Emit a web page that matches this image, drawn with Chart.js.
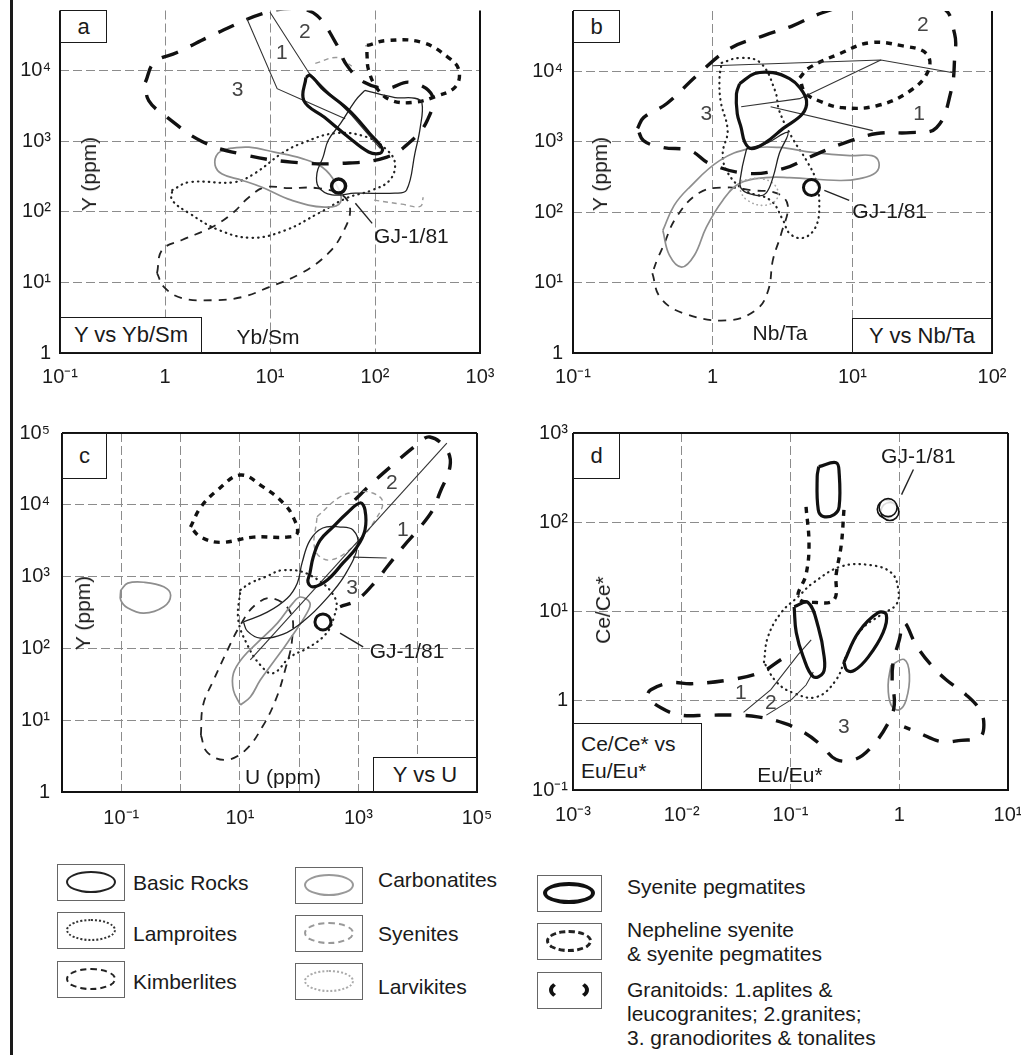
<!DOCTYPE html>
<html lang="en">
<head>
<meta charset="UTF-8">
<title>Y, Ce/Ce* discrimination diagrams</title>
<script src="https://cdn.jsdelivr.net/npm/chart.js"></script>
<style>
  body { margin: 0; background: #fff; }
  #fig { position: relative; width: 1021px; height: 1055px; overflow: hidden;
         font-family: "Liberation Sans", Arial, sans-serif; color: #1a1a1a; background: #fff; }
  canvas { position: absolute; }
  .bar { position: absolute; left: 10px; top: 0; width: 3px; height: 1055px; background: #1a1a1a; }
  .box { position: absolute; box-sizing: border-box; border: 1.5px solid #1a1a1a; background: #fff;
         font-size: 22px; display: flex; align-items: center; justify-content: center; white-space: nowrap; }
  .lbl { position: absolute; font-size: 21px; white-space: nowrap; transform: translate(-50%, -50%); }
  .rot { transform: translate(-50%, -50%) rotate(-90deg); }
  .lg { position: absolute; box-sizing: border-box; width: 68px; height: 37px; border: 1.5px solid #666; }
  .lg i { position: absolute; left: 8px; top: 6px; width: 50px; height: 22px; border-radius: 50%; box-sizing: border-box; }
  .lt { position: absolute; font-size: 21px; line-height: 24px; white-space: nowrap; }
</style>
</head>
<body>
<div id="fig">
  <div class="bar"></div>
  <canvas id="pa" width="510" height="400" style="left:0;top:0"></canvas>
  <canvas id="pb" width="511" height="400" style="left:510px;top:0"></canvas>
  <canvas id="pc" width="510" height="440" style="left:0;top:400px"></canvas>
  <canvas id="pd" width="511" height="440" style="left:510px;top:400px"></canvas>

  <!-- panel a -->
  <div class="box" style="left:60px;top:10px;width:47px;height:33px">a</div>
  <div class="lbl rot" style="left:89px;top:174px">Y (ppm)</div>
  <div class="lbl" style="left:268px;top:337px">Yb/Sm</div>
  <div class="box" style="left:60px;top:317px;width:142px;height:36px">Y vs Yb/Sm</div>
  <!-- panel b -->
  <div class="box" style="left:573px;top:10px;width:47px;height:33px">b</div>
  <div class="lbl rot" style="left:600px;top:174px">Y (ppm)</div>
  <div class="lbl" style="left:780px;top:333px">Nb/Ta</div>
  <div class="box" style="left:852px;top:318px;width:140px;height:35px">Y vs Nb/Ta</div>
  <!-- panel c -->
  <div class="box" style="left:62px;top:433px;width:45px;height:46px">c</div>
  <div class="lbl rot" style="left:83px;top:613px">Y (ppm)</div>
  <div class="lbl" style="left:283px;top:777px">U (ppm)</div>
  <div class="box" style="left:373px;top:757px;width:104px;height:35px">Y vs U</div>
  <!-- panel d -->
  <div class="box" style="left:573px;top:433px;width:47px;height:46px">d</div>
  <div class="lbl rot" style="left:603px;top:610px">Ce/Ce*</div>
  <div class="lbl" style="left:790px;top:775px">Eu/Eu*</div>
  <div class="box" style="left:573px;top:723px;width:129px;height:67px;display:block;padding:6px 0 0 7px;line-height:27px;font-size:21px">Ce/Ce* vs<br>Eu/Eu*</div>

  <!-- legend -->
  <div class="lg" style="left:57px;top:864px"><i style="border:2px solid #222"></i></div>
  <div class="lt" style="left:133px;top:871px">Basic Rocks</div>
  <div class="lg" style="left:57px;top:912px"><i style="border:2.5px dotted #333"></i></div>
  <div class="lt" style="left:133px;top:922px">Lamproites</div>
  <div class="lg" style="left:57px;top:961px"><i style="border:2px dashed #222"></i></div>
  <div class="lt" style="left:133px;top:970px">Kimberlites</div>

  <div class="lg" style="left:295px;top:867px"><i style="border:2px solid #999"></i></div>
  <div class="lt" style="left:378px;top:868px">Carbonatites</div>
  <div class="lg" style="left:295px;top:915px"><i style="border:2px dashed #999"></i></div>
  <div class="lt" style="left:378px;top:922px">Syenites</div>
  <div class="lg" style="left:295px;top:963px"><i style="border:2px dotted #aaa"></i></div>
  <div class="lt" style="left:378px;top:975px">Larvikites</div>

  <div class="lg" style="left:537px;top:875px;width:65px"><i style="border:4px solid #111;width:52px;left:5px"></i></div>
  <div class="lt" style="left:627px;top:875px">Syenite pegmatites</div>
  <div class="lg" style="left:537px;top:923px;width:65px"><i style="border:3px dashed #222;width:46px;left:8px"></i></div>
  <div class="lt" style="left:627px;top:918px">Nepheline syenite<br>&amp; syenite pegmatites</div>
  <div class="lg" style="left:537px;top:972px;width:65px"><i style="border:4px solid #111;border-top-color:transparent;border-bottom-color:transparent;width:40px;left:11px"></i></div>
  <div class="lt" style="left:627px;top:978px">Granitoids: 1.aplites &amp;<br>leucogranites; 2.granites;<br>3. granodiorites &amp; tonalites</div>
</div>

<script>
// ---------- tick values and labels ----------
const aXTicks = [0.1, 1, 10, 100, 1000];
const aXLabels = ['10⁻¹', '1', '10¹', '10²', '10³'];
const abYTicks = [1, 10, 100, 1000, 10000];
const abYLabels = ['1', '10¹', '10²', '10³', '10⁴'];
const bXTicks = [0.1, 1, 10, 100];
const bXLabels = ['10⁻¹', '1', '10¹', '10²'];
const cXTicks = [0.01, 0.1, 1, 10, 100, 1000, 10000, 100000];
const cXLabels = ['', '10⁻¹', '', '10¹', '', '10³', '', '10⁵'];
const cYTicks = [1, 10, 100, 1000, 10000, 100000];
const cYLabels = ['1', '10¹', '10²', '10³', '10⁴', '10⁵'];
const dXTicks = [0.001, 0.01, 0.1, 1, 10];
const dXLabels = ['10⁻³', '10⁻²', '10⁻¹', '1', '10¹'];
const dYTicks = [0.1, 1, 10, 100, 1000];
const dYLabels = ['10⁻¹', '1', '10¹', '10²', '10³'];

// ---------- panel a: Y (ppm) vs Yb/Sm, field outlines [Yb/Sm, Y] ----------
const aGranitoid3 = [[0.65,6900],[0.79,13200],[1.3,18300],[3.2,35000],[8.8,66000],[18,77000],[28,61000],[42,25500],[54,12000],[79,6900],[130,5700],[215,6900],[350,4500],[315,2000],[225,1040],[130,600],[49,490],[16,510],[5.4,660],[2.25,1000],[1.05,2200],[0.7,3800]];
const aGranitoid1 = [[6.0,56000],[11.7,5600],[21,3800],[52,2100]];
const aGranitoid2 = [[10,68000],[23.6,9300],[60,2350],[112,800]];
const aPegmatite = [[22,8100],[21,3800],[33,2200],[56,1150],[87,710],[112,680],[117,800],[89,1300],[56,2800],[33,5300],[24,8700]];
const aBasic = [[80,5300],[155,4200],[240,4100],[280,3500],[270,1600],[240,680],[200,205],[155,185],[65,185],[39,175],[29,225],[28,355],[32,600],[36,1050],[47,1800],[65,3800]];
const aNepheline = [[84,23000],[130,27000],[280,25500],[500,15500],[630,10200],[580,5900],[370,4300],[240,3600],[145,3800],[105,5600],[87,10200],[84,16500]];
const aSyeniteTop = [[27,12800],[44,15500],[60,11700]];
const aSyeniteLow = [[98,147],[180,129],[270,120],[288,162]];
const aCarbonatite = [[4.1,800],[6.3,830],[11,705],[20,575],[31.5,430],[42,257],[47,138],[33,117],[16,147],[8.4,224],[5.4,282],[3.5,345],[3.0,460],[3.2,680]];
const aLamproite = [[1.17,204],[1.7,265],[4.6,265],[7.2,355],[13,680],[20,940],[42,1310],[84,1150],[130,755],[155,490],[138,282],[94,204],[54,158],[29,96],[14,55],[6.7,43],[3.3,55],[1.7,96],[1.17,147]];
const aKimberlite = [[0.84,13.6],[0.94,29],[1.45,40],[2.8,61],[4.4,96],[6.3,162],[9.0,224],[15,218],[28,218],[49,173],[58,106],[49,50],[36,26],[20,13.6],[9.8,8.6],[5.4,6.2],[2.8,5.6],[1.45,6.0],[0.98,8.6]];
const aGJ = [[45,233]];

// ---------- panel b: Y (ppm) vs Nb/Ta ----------
const bGranitoid3 = [[0.29,1550],[0.32,2200],[0.47,3500],[0.77,8700],[1.32,21000],[2.3,32000],[3.7,44000],[6.1,68000],[15,110000],[44,80000],[54,34000],[54,15500],[51,5300],[40,1580],[26,1350],[15,1310],[8.5,940],[4.9,600],[3.2,415],[1.8,355],[0.95,490],[0.69,750],[0.44,830],[0.32,1040]];
const bGranitoid1a = [[1.0,12000],[16,14500],[54,9500]];
const bGranitoid1b = [[1.6,3150],[4.2,4100],[16,14500]];
const bGranitoid1c = [[2.6,3150],[14,1440]];
const bNepheline = [[4.2,8100],[4.9,11200],[8.1,17800],[13.3,25500],[23,23000],[34,17800],[35,10200],[26,5300],[15,3250],[8.5,3050],[5.8,3800],[4.6,5000]];
const bPegmatite = [[1.56,6700],[2.0,9300],[2.7,9600],[3.55,7900],[4.2,5900],[4.7,3800],[4.4,2500],[3.2,1550],[2.4,980],[1.9,800],[1.7,980],[1.6,1580],[1.5,2500],[1.48,4800]];
const bBasic = [[1.75,800],[1.6,355],[1.6,218],[2.05,173],[2.4,185],[2.7,310],[3.0,680],[3.45,1350],[2.4,940]];
const bCarbonatite = [[0.44,55],[0.53,125],[0.68,224],[1.12,540],[1.84,800],[3.0,830],[5.2,705],[9.6,635],[13.8,635],[15.5,510],[14.7,365],[11.3,300],[8.1,282],[3.55,310],[2.4,310],[1.56,257],[1.18,147],[0.9,61],[0.74,24.5],[0.6,16.6],[0.49,24.5]];
const bKimberlite = [[0.37,13.6],[0.42,6.2],[0.61,3.7],[1.26,2.9],[2.05,4.1],[2.5,7.8],[2.7,21],[3.1,50],[3.45,125],[2.9,185],[1.93,204],[1.26,224],[0.81,190],[0.55,85],[0.44,32],[0.4,21]];
const bLamproite = [[1.16,13200],[1.56,15500],[2.2,13200],[2.8,5300],[3.0,2750],[3.7,1150],[4.7,540],[5.5,282],[5.8,117],[5.4,59],[4.4,43],[3.55,50],[3.2,76],[2.6,147],[1.7,204],[1.28,365],[1.18,680],[1.28,1440],[1.14,3800],[1.12,8100]];
const bLarvikite = [[1.6,282],[2.2,300],[2.8,240],[2.9,158],[2.35,125],[1.78,147],[1.58,204]];
const bGJ = [[5.1,224]];

// ---------- panel c: Y (ppm) vs U (ppm) ----------
const cCarbonatiteSmall = [[0.098,650],[0.129,810],[0.24,835],[0.52,720],[0.68,550],[0.52,380],[0.24,310],[0.129,365],[0.098,470]];
const cNepheline = [[1.47,4900],[2.2,9300],[4.2,16000],[10.2,26000],[25,17600],[54,10600],[79,6800],[93,4000],[63,3550],[17,3550],[4.7,3000],[2.2,3550]];
const cKimberlite = [[2.2,6.2],[2.4,16.3],[3.6,36],[6.2,95],[10.2,212],[18,400],[35,500],[71,320],[76,132],[58,50],[40,19],[24,8.1],[12.3,3.8],[5.7,2.8],[2.8,3.6]];
const cCarbonatite = [[10.2,16.3],[7.8,26],[7.8,45],[11.4,76],[19.6,119],[43,225],[79,430],[105,520],[152,430],[135,310],[63,119],[36,63],[22,36],[15,21]];
const cBasic = [[11.5,234],[29,320],[63,500],[93,810],[112,1550],[152,3200],[250,4750],[490,4900],[810,4450],[980,2750],[590,1050],[275,470],[126,250],[54,158],[22,139],[13.4,174]];
const cPegmatite = [[152,1120],[173,1870],[225,3200],[370,4900],[645,7700],[1070,10600],[1290,8500],[1290,4450],[940,2570],[550,1550],[295,890],[173,720],[141,840]];
const cSyenite = [[200,6800],[490,12900],[940,15100],[1740,14600],[2570,11000],[1900,6100],[870,2750],[330,1700],[186,2350]];
const cLamproite = [[10.2,650],[15,810],[27,990],[54,1230],[152,1050],[405,500],[375,250],[275,155],[141,102],[71,76],[36,45],[22,59],[13.4,112],[9.4,250]];
const cGranitoid = [[870,11700],[1700,20000],[3800,36000],[9500,68000],[16000,88000],[31000,58000],[35000,34000],[23500,14600],[18000,8500],[10000,4450],[6000,2750],[3000,1350],[2050,900],[940,470],[490,380]];
const cGranitoidLine = [[15,69],[31000,72000]];
const cGranitoidTick = [[810,1870],[3000,1820]];
const cGJ = [[252,234]];

// ---------- panel d: Ce/Ce* vs Eu/Eu* ----------
const dPegmatiteTop = [[0.182,420],[0.263,465],[0.28,360],[0.28,149],[0.252,122],[0.2,116],[0.18,138],[0.176,325]];
const dPegmatiteLeft = [[0.108,11.3],[0.145,12.6],[0.18,6.7],[0.204,3.1],[0.2,2.06],[0.162,1.86],[0.131,3.1],[0.113,5.8]];
const dPegmatiteRight = [[0.31,2.7],[0.42,5.8],[0.64,9.7],[0.76,9.2],[0.71,5.8],[0.52,3.1],[0.39,2.2],[0.33,2.2]];
const dNepheline = [[0.139,149],[0.148,56],[0.139,26],[0.118,14.3],[0.173,12.6],[0.252,13.6],[0.263,26],[0.293,56],[0.31,138]];
const dLamproite = [[0.057,2.7],[0.062,5.2],[0.082,9.7],[0.118,14.7],[0.162,21],[0.293,32],[0.55,33],[0.85,27],[0.98,17.6],[0.94,12],[0.68,9.2],[0.45,6.3],[0.33,3.3],[0.263,1.72],[0.173,1.1],[0.105,1.23],[0.074,1.63]];
const dCarbonatite = [[0.84,2.5],[1.11,2.9],[1.24,1.96],[1.16,1.03],[1.0,0.79],[0.84,0.9],[0.79,1.5]];
const dGranitoid3 = [[0.082,2.9],[0.054,2.1],[0.028,1.72],[0.0122,1.55],[0.008,1.59],[0.0052,1.33],[0.0049,1.11],[0.0065,0.83],[0.0098,0.69],[0.0174,0.69],[0.032,0.69],[0.05,0.66],[0.087,0.56],[0.134,0.44],[0.19,0.32],[0.263,0.22],[0.39,0.22],[0.55,0.30],[0.79,0.56],[0.9,0.9],[0.86,1.72],[0.88,2.7],[1.0,4.8],[1.11,7.5],[1.43,4.2],[1.97,2.5],[2.7,1.72],[4.1,1.17],[5.5,0.79],[6.0,0.54],[5.5,0.39],[3.7,0.36],[2.4,0.35],[1.5,0.44],[1.11,0.51]];
const dGranitoid1 = [[0.037,0.74],[0.066,1.33],[0.118,3.3],[0.155,4.8]];
const dGranitoid2 = [[0.06,0.69],[0.102,1.03],[0.139,1.5],[0.162,2.1]];
const dGJ = [[0.76,140],[0.82,132],[0.79,146]];

// annotations: [text, x, y]
const aNotes = [['1',13,18000],['2',21.5,35500],['3',4.9,5300]];
const bNotes = [['3',0.9,2500],['1',30,2500],['2',32,45000]];
const cNotes = [['1',5600,4450],['2',3650,20000],['3',780,690]];
const dNotes = [['1',0.035,1.23],['2',0.066,0.95],['3',0.31,0.51]];
const aGJText = [98,44], aGJLeader = [[65,133],[94,69]];
const bGJText = [10,100], bGJLeader = [[6.3,204],[9.5,147]];
const cGJText = [1550,89], cGJLeader = [[490,163],[1200,105]];
const dGJText = [1.5,530], dGJLeader = [[1.05,204],[1.35,390]];

const FONT = '"Liberation Sans", Arial, sans-serif';
const STY = {
  basic:      { c: '#222', w: 1.3, d: [] },
  lamproite:  { c: '#222', w: 2.2, d: [0.5, 5], cap: 'round' },
  kimberlite: { c: '#222', w: 1.8, d: [8, 7] },
  carbonatite:{ c: '#8e8e8e', w: 1.7, d: [] },
  syenite:    { c: '#9a9a9a', w: 1.4, d: [5, 4] },
  larvikite:  { c: '#aaa', w: 1.6, d: [0.5, 4], cap: 'round' },
  pegmatite:  { c: '#111', w: 3.2, d: [] },
  nepheline:  { c: '#111', w: 3.4, d: [6, 6] },
  granitoid:  { c: '#111', w: 3.4, d: [17, 14] },
  thin:       { c: '#333', w: 1.1, d: [], t: 0 }
};

function shape(pts, style, closed = true) {
  const s = STY[style];
  const p = closed ? pts.concat([pts[0]]) : pts;
  return {
    data: p.map(q => ({ x: q[0], y: q[1] })),
    showLine: true, pointRadius: 0, fill: false,
    borderColor: s.c, borderWidth: s.w, borderDash: s.d,
    borderCapStyle: s.cap || 'butt', tension: s.t === 0 ? 0 : 0.4
  };
}
function gj(pts, r, bw) {
  return { data: pts.map(q => ({ x: q[0], y: q[1] })), showLine: false,
           pointRadius: r, pointBorderWidth: bw, pointBorderColor: '#111',
           pointBackgroundColor: 'rgba(255,255,255,0.85)' };
}

const framePlugin = {
  id: 'frame',
  afterDatasetsDraw(chart, args, o) {
    const { ctx, chartArea: a, scales } = chart;
    ctx.save();
    // annotation texts and leader
    ctx.fillStyle = '#444';
    ctx.font = '21px ' + FONT;
    ctx.textAlign = 'center'; ctx.textBaseline = 'middle';
    o.notes.forEach(n => ctx.fillText(n[0], scales.x.getPixelForValue(n[1]), scales.y.getPixelForValue(n[2])));
    ctx.fillStyle = '#1a1a1a';
    ctx.textAlign = o.gjAlign;
    ctx.fillText('GJ-1/81', scales.x.getPixelForValue(o.gjText[0]), scales.y.getPixelForValue(o.gjText[1]));
    ctx.strokeStyle = '#222'; ctx.lineWidth = 1.4;
    ctx.beginPath();
    o.gjLeader.forEach((p, i) => {
      const x = scales.x.getPixelForValue(p[0]), y = scales.y.getPixelForValue(p[1]);
      i ? ctx.lineTo(x, y) : ctx.moveTo(x, y);
    });
    ctx.stroke();
    // frame
    ctx.strokeStyle = '#111'; ctx.lineWidth = 2;
    ctx.beginPath();
    if (o.top) { ctx.moveTo(a.left, a.top); ctx.lineTo(a.right, a.top); }
    ctx.moveTo(a.left, a.top); ctx.lineTo(a.left, a.bottom); ctx.lineTo(a.right, a.bottom); ctx.lineTo(a.right, a.top);
    ctx.stroke();
    ctx.restore();
  }
};

function axis(min, max, ticks, labels, isX, size, pad) {
  return {
    type: 'logarithmic', min: min, max: max,
    afterBuildTicks: s => { s.ticks = ticks.map(v => ({ value: v })); },
    afterFit: s => {
      if (isX) { s.height = size; s.paddingLeft = 0; s.paddingRight = 0; }
      else { s.width = size; s.paddingTop = 0; s.paddingBottom = 0; }
    },
    ticks: { callback: (v, i) => labels[i], autoSkip: false, maxRotation: 0,
             padding: pad, color: '#1a1a1a', font: { family: FONT, size: 20 } },
    grid: { drawTicks: false, lineWidth: 1,
            color: c => (c.tick && (c.tick.value === min || c.tick.value === max)) ? 'rgba(0,0,0,0)' : '#8c8c8c' },
    border: { display: false, dash: [9, 4] }
  };
}

function panel(id, p) {
  new Chart(document.getElementById(id), {
    type: 'scatter',
    data: { datasets: p.datasets },
    options: {
      responsive: false, animation: false, events: [],
      layout: { padding: { left: 0, top: p.t, right: p.w - p.r, bottom: 0 } },
      elements: { line: { capBezierPoints: false } },
      plugins: { legend: { display: false }, tooltip: { enabled: false },
                 frame: { top: p.top, notes: p.notes, gjText: p.gjText, gjLeader: p.gjLeader, gjAlign: p.gjAlign || 'left' } },
      scales: {
        x: axis(p.x[0], p.x[1], p.xt, p.xl, true, p.h - p.b, p.xpad),
        y: axis(p.y[0], p.y[1], p.yt, p.yl, false, p.l, p.ypad)
      }
    },
    plugins: [framePlugin]
  });
}

panel('pa', {
  w: 510, h: 400, l: 60, t: 10, r: 480, b: 353, top: false, xpad: 12, ypad: 9,
  x: [0.1, 1000], y: [1, 72000], xt: aXTicks, xl: aXLabels, yt: abYTicks, yl: abYLabels,
  notes: aNotes, gjText: aGJText, gjLeader: aGJLeader,
  datasets: [
    gj(aGJ, 7, 3.5),
    shape(aPegmatite, 'pegmatite'),
    shape(aBasic, 'basic'),
    shape(aGranitoid1, 'thin', false),
    shape(aGranitoid2, 'thin', false),
    shape(aNepheline, 'nepheline'),
    shape(aGranitoid3, 'granitoid'),
    shape(aSyeniteTop, 'syenite', false),
    shape(aSyeniteLow, 'syenite', false),
    shape(aCarbonatite, 'carbonatite'),
    shape(aLamproite, 'lamproite'),
    shape(aKimberlite, 'kimberlite')
  ]
});

panel('pb', {
  w: 511, h: 400, l: 63, t: 10, r: 482, b: 353, top: false, xpad: 12, ypad: 10,
  x: [0.1, 100], y: [1, 72000], xt: bXTicks, xl: bXLabels, yt: abYTicks, yl: abYLabels,
  notes: bNotes, gjText: bGJText, gjLeader: bGJLeader,
  datasets: [
    gj(bGJ, 8, 3),
    shape(bPegmatite, 'pegmatite'),
    shape(bBasic, 'basic'),
    shape(bGranitoid1a, 'thin', false),
    shape(bGranitoid1b, 'thin', false),
    shape(bGranitoid1c, 'thin', false),
    shape(bNepheline, 'nepheline'),
    shape(bGranitoid3, 'granitoid'),
    shape(bLarvikite, 'larvikite'),
    shape(bCarbonatite, 'carbonatite'),
    shape(bLamproite, 'lamproite'),
    shape(bKimberlite, 'kimberlite')
  ]
});

panel('pc', {
  w: 510, h: 440, l: 62, t: 33, r: 477, b: 392, top: true, xpad: 14, ypad: 12,
  x: [0.01, 100000], y: [1, 100000], xt: cXTicks, xl: cXLabels, yt: cYTicks, yl: cYLabels,
  notes: cNotes, gjText: cGJText, gjLeader: cGJLeader,
  datasets: [
    gj(cGJ, 8, 3),
    shape(cPegmatite, 'pegmatite'),
    shape(cBasic, 'basic'),
    shape(cGranitoidLine, 'thin', false),
    shape(cGranitoidTick, 'thin', false),
    shape(cSyenite, 'syenite'),
    shape(cNepheline, 'nepheline'),
    shape(cGranitoid, 'granitoid', false),
    shape(cCarbonatite, 'carbonatite'),
    shape(cCarbonatiteSmall, 'carbonatite'),
    shape(cLamproite, 'lamproite'),
    shape(cKimberlite, 'kimberlite')
  ]
});

panel('pd', {
  w: 511, h: 440, l: 63, t: 33, r: 498, b: 390, top: true, xpad: 13, ypad: 5,
  x: [0.001, 10], y: [0.1, 1000], xt: dXTicks, xl: dXLabels, yt: dYTicks, yl: dYLabels,
  notes: dNotes, gjText: dGJText, gjLeader: dGJLeader, gjAlign: 'center',
  datasets: [
    gj(dGJ, 9, 1.6),
    shape(dPegmatiteTop, 'pegmatite'),
    shape(dPegmatiteLeft, 'pegmatite'),
    shape(dPegmatiteRight, 'pegmatite'),
    shape(dGranitoid1, 'thin', false),
    shape(dGranitoid2, 'thin', false),
    shape(dNepheline, 'nepheline', false),
    shape(dGranitoid3, 'granitoid', false),
    shape(dCarbonatite, 'carbonatite'),
    shape(dLamproite, 'lamproite')
  ]
});
</script>
</body>
</html>
